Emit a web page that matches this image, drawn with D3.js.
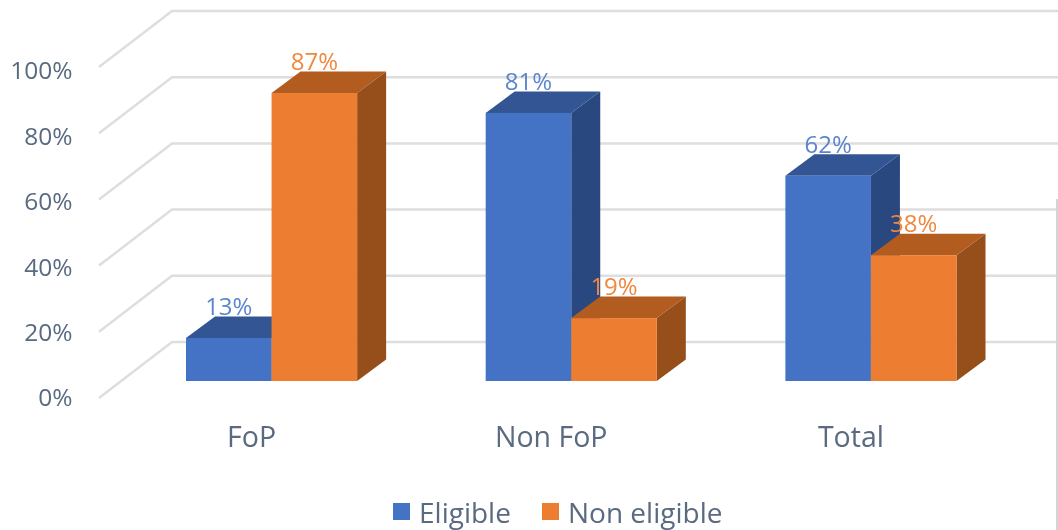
<!DOCTYPE html>
<html>
<head>
<meta charset="utf-8">
<script src="https://cdn.jsdelivr.net/npm/d3@7"></script>
<style>
  html, body { margin: 0; padding: 0; background: #fff; }
  svg { display: block; filter: blur(0.5px); }
  text { font-family: "Open Sans", sans-serif; }
</style>
</head>
<body>
<div id="chart"></div>
<script>
// Data
const categories = ["FoP", "Non FoP", "Total"];
const seriesNames = ["Eligible", "Non eligible"];
const eligible = [13, 81, 62];
const nonEligible = [87, 19, 38];
const tickValues = [0, 20, 40, 60, 80, 100];

const width = 1058;
const height = 530;

// 3D offset of the bars and of the walls
const barDepth = { dx: 29, dy: -21.5 };
const wall = { x0: 99, x1: 172, front: 17, back: -39 };

const colors = {
    "Eligible": { front: "#4472c4", top: "#335593", side: "#2a4880" },
    "Non eligible": { front: "#ed7d31", top: "#b25c20", side: "#964f1a" }
};
const textColor = "#5a6a80";

const svg = d3.select("#chart").append("svg")
    .attr("width", width)
    .attr("height", height);

const y = d3.scaleLinear().domain([0, 100]).range([381, 50]);
// the tick labels sit slightly tighter than the gridlines
const yLabels = d3.scaleLinear().domain([0, 100]).range([398, 71]);

const x = d3.scaleBand().domain(categories).range([186, 956.5]).paddingInner(0.429).paddingOuter(0);
const xInner = d3.scaleBand().domain(seriesNames).range([0, x.bandwidth()]);

// Gridlines: slanted part on the floor side then flat along the back wall
svg.append("g")
    .selectAll("path")
    .data(tickValues)
    .enter().append("path")
    .attr("d", d => `M${wall.x0},${y(d) + wall.front}L${wall.x1},${y(d) + wall.back}L${width},${y(d) + wall.back}`)
    .attr("fill", "none")
    .attr("stroke", "#dedede")
    .attr("stroke-width", 2.5);

// Right edge of the picture
svg.append("line")
    .attr("x1", 1057).attr("x2", 1057)
    .attr("y1", 199).attr("y2", height)
    .attr("stroke", "#d4d4d4")
    .attr("stroke-width", 2);

// Y axis labels
const yAxis = d3.axisLeft(yLabels)
    .tickValues(tickValues)
    .tickSize(0)
    .tickPadding(0)
    .tickFormat(d => d + "%");

const yAxisGroup = svg.append("g")
    .attr("transform", "translate(72.5,0)")
    .call(yAxis);
yAxisGroup.select(".domain").remove();
yAxisGroup.selectAll("text")
    .style("font-size", "24.5px")
    .style("font-family", '"Open Sans", sans-serif')
    .attr("fill", textColor);

// Bars
const rows = categories.map((c, i) => ({
    category: c,
    values: [
        { name: "Eligible", value: eligible[i] },
        { name: "Non eligible", value: nonEligible[i] }
    ]
}));

const groups = svg.append("g")
    .selectAll("g")
    .data(rows)
    .enter().append("g")
    .attr("transform", d => `translate(${x(d.category)},0)`);

const bars = groups.selectAll("g")
    .data(d => d.values)
    .enter().append("g");

bars.append("path")
    .attr("d", d => {
        const x1 = xInner(d.name) + xInner.bandwidth();
        return `M${x1},${y(d.value)}l${barDepth.dx},${barDepth.dy}L${x1 + barDepth.dx},${y(0) + barDepth.dy}L${x1},${y(0)}Z`;
    })
    .attr("fill", d => colors[d.name].side);

bars.append("path")
    .attr("d", d => {
        const x0 = xInner(d.name);
        return `M${x0},${y(d.value)}l${barDepth.dx},${barDepth.dy}h${xInner.bandwidth()}l${-barDepth.dx},${-barDepth.dy}Z`;
    })
    .attr("fill", d => colors[d.name].top);

bars.append("rect")
    .attr("x", d => xInner(d.name))
    .attr("y", d => y(d.value))
    .attr("width", xInner.bandwidth())
    .attr("height", d => y(0) - y(d.value))
    .attr("fill", d => colors[d.name].front);

// Value labels go on top of every bar
svg.append("g")
    .selectAll("g")
    .data(rows)
    .enter().append("g")
    .attr("transform", d => `translate(${x(d.category)},0)`)
    .selectAll("text")
    .data(d => d.values)
    .enter().append("text")
    .attr("x", d => xInner(d.name) + xInner.bandwidth() / 2)
    .attr("y", d => y(d.value) - 23)
    .attr("text-anchor", "middle")
    .attr("font-size", "24px")
    .attr("fill", d => d.name === "Eligible" ? "#5b85cf" : "#f0883f")
    .text(d => d.value + "%");

// Category labels, placed left of the group centre as in the picture
svg.append("g")
    .selectAll("text")
    .data(categories)
    .enter().append("text")
    .attr("x", d => x(d) + x.bandwidth() / 2 - 20)
    .attr("y", 447)
    .attr("text-anchor", "middle")
    .attr("font-size", "28.5px")
    .attr("fill", textColor)
    .text(d => d);

// Legend
const legendX = d3.scaleOrdinal().domain(seriesNames).range([393, 542]);

const legend = svg.append("g")
    .selectAll("g")
    .data(seriesNames)
    .enter().append("g")
    .attr("transform", d => `translate(${legendX(d)},503)`);

legend.append("rect")
    .attr("width", 17)
    .attr("height", 17)
    .attr("fill", d => colors[d].front);

legend.append("text")
    .attr("x", 26)
    .attr("y", 19.5)
    .attr("font-size", "28px")
    .attr("fill", textColor)
    .text(d => d);
</script>
</body>
</html>
